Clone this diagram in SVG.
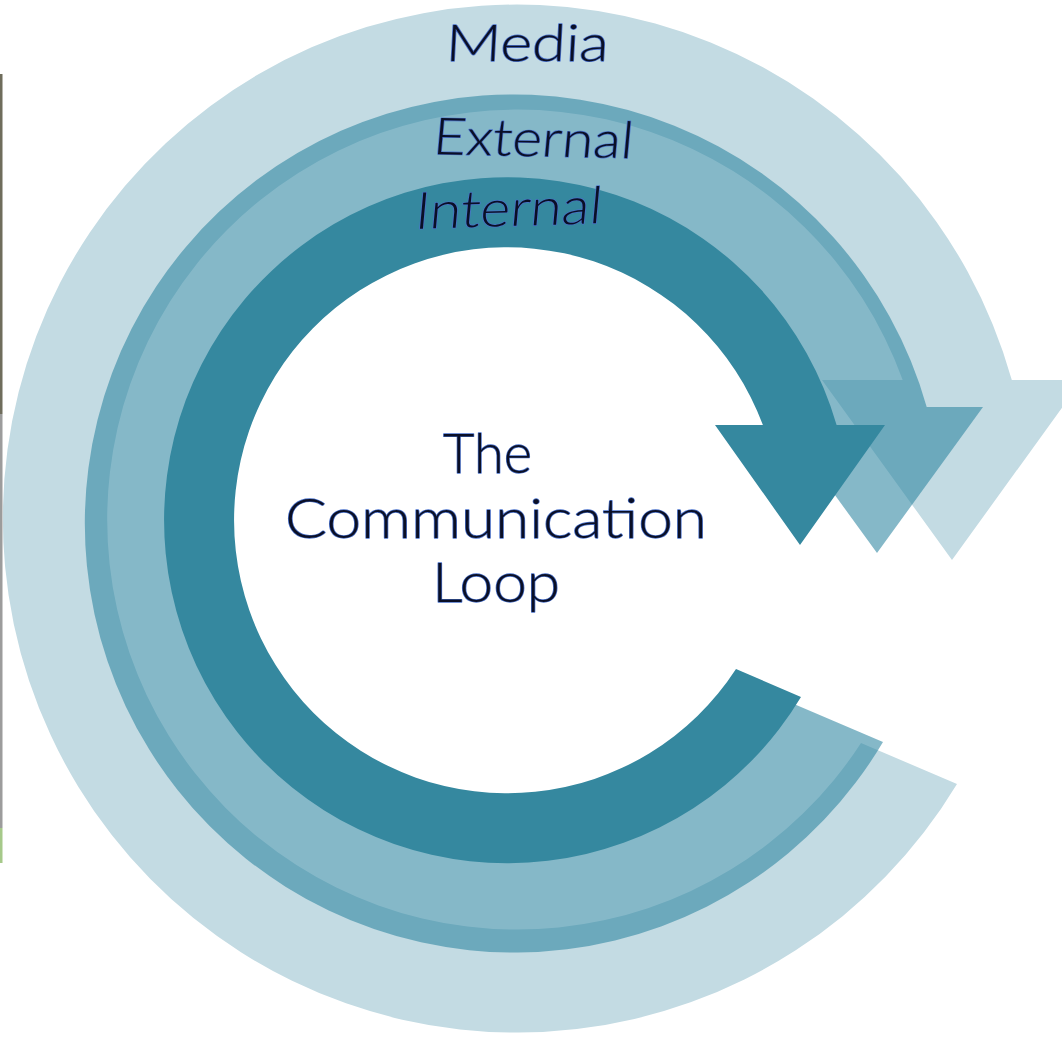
<svg xmlns="http://www.w3.org/2000/svg" width="1062" height="1037" viewBox="0 0 1062 1037">
  <style>
    .lbl { font-family: "Lato", "Liberation Sans", sans-serif; font-weight: 300; fill: #0a0f26; stroke: #4a72cc; stroke-width: 1.3; paint-order: stroke; stroke-linejoin: round; }
    .ring-media { fill: #c3dbe3; }
    .ring-external { fill: #2d85a0; fill-opacity: 0.58; }
    .ring-internal { fill: #35889f; }
  </style>
  <rect width="1062" height="1037" fill="#ffffff"/>
  <g id="edge-strip">
    <rect x="0" y="74" width="2.5" height="340" fill="#6f6d5c"/>
    <rect x="0" y="414" width="2.5" height="414" fill="#9c9c9c"/>
    <rect x="0" y="828" width="2.5" height="35" fill="#a6c98a"/>
  </g>
  <g id="media">
    <path class="ring-media" d="M 957 784 A 514 514 0 1 1 1011.8 380 L 1082 380 L 952 560 L 822 380 L 902.7 380 A 410 410 0 1 0 861 743 Z"/>
  </g>
  <g id="external">
    <path class="ring-external" d="M 883 742 A 429 429 0 1 1 926.7 407 L 983 407 L 877 553 L 771 407 L 822.6 407 A 330 330 0 1 0 791.6 702.9 Z"/>
  </g>
  <g id="internal">
    <path class="ring-internal" d="M 801 697 A 343 343 0 1 1 836.6 425 L 885 425 L 800 545 L 715 425 L 762.9 425 A 273 273 0 1 0 736 669 Z"/>
  </g>
  <g id="labels">
    <text class="lbl" font-size="51" transform="translate(445 61) skewX(-3)" x="0" y="0" textLength="163" lengthAdjust="spacingAndGlyphs">Media</text>
    <text class="lbl" font-size="51" transform="translate(432 154) rotate(1.2) skewX(-4)" x="0" y="0" textLength="200" lengthAdjust="spacingAndGlyphs">External</text>
    <text class="lbl" font-size="51" transform="translate(414 229) rotate(-1.8) skewX(-7)" x="0" y="0" textLength="187" lengthAdjust="spacingAndGlyphs">Internal</text>
  </g>
  <g id="center-label">
    <text class="lbl" font-size="55" x="443" y="473" textLength="89" lengthAdjust="spacingAndGlyphs">The</text>
    <text class="lbl" font-size="55" x="285" y="538" textLength="422" lengthAdjust="spacingAndGlyphs">Communication</text>
    <text class="lbl" font-size="55" x="432" y="602" textLength="128" lengthAdjust="spacingAndGlyphs">Loop</text>
  </g>
</svg>
